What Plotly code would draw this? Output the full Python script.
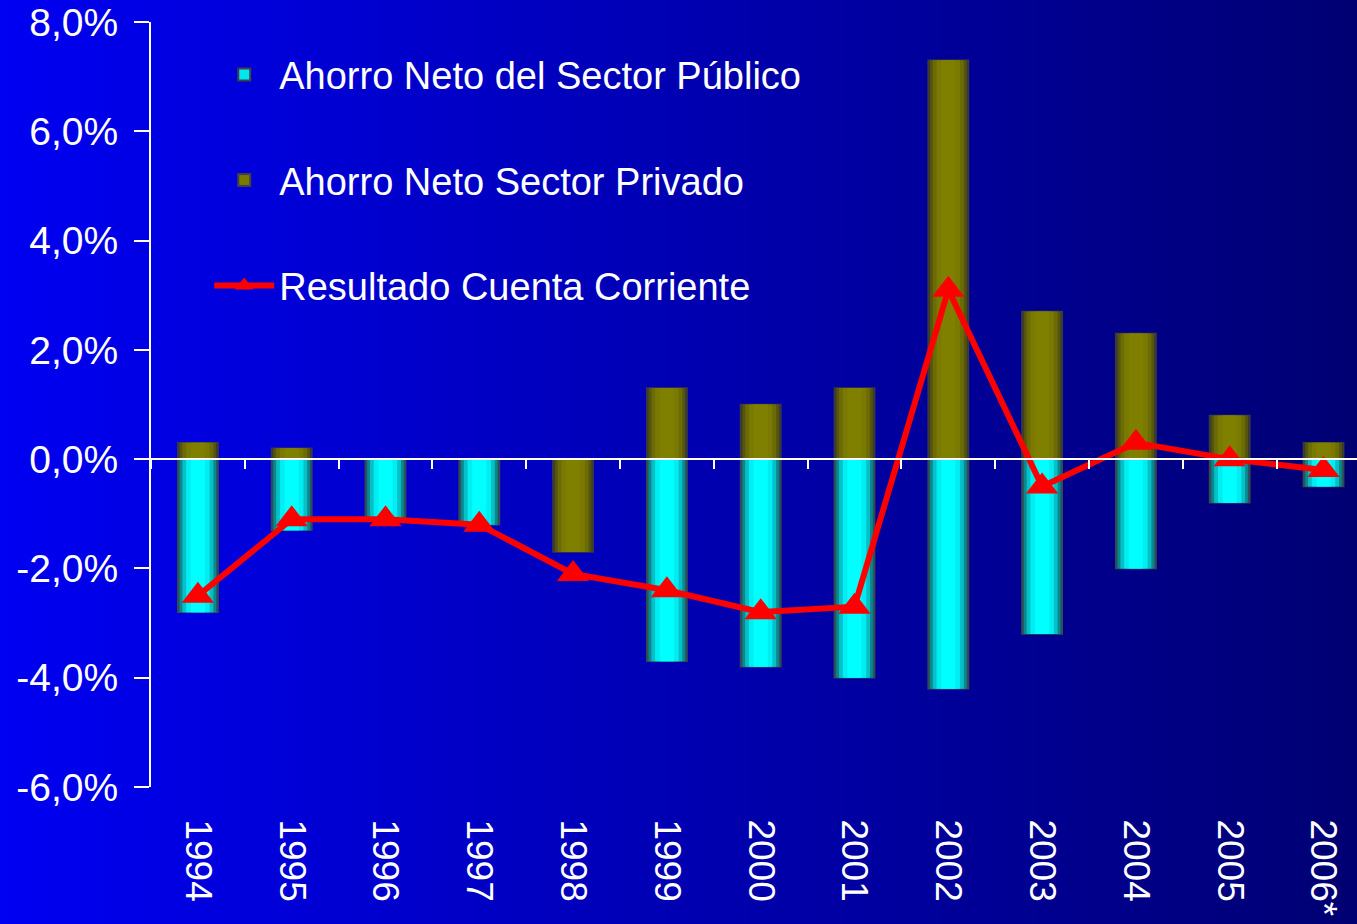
import base64, struct, zlib
import plotly.graph_objects as go

# ---------------- data ----------------
years = ["1994", "1995", "1996", "1997", "1998", "1999", "2000",
         "2001", "2002", "2003", "2004", "2005", "2006*"]
ahorro_publico = [-2.8, -1.3, -1.1, -1.2, -0.4, -3.7, -3.8, -4.0, -4.2, -3.2, -2.0, -0.8, -0.5]
ahorro_privado = [0.3, 0.2, 0.0, 0.0, -1.7, 1.3, 1.0, 1.3, 7.3, 2.7, 2.3, 0.8, 0.3]
cuenta_corriente = [-2.5, -1.1, -1.1, -1.2, -2.1, -2.4, -2.8, -2.7, 3.1, -0.5, 0.3, 0.0, -0.2]
y_ticks = [-6, -4, -2, 0, 2, 4, 6, 8]
y_ticktext = ["-6,0%", "-4,0%", "-2,0%", "0,0%", "2,0%", "4,0%", "6,0%", "8,0%"]

names = ["Ahorro Neto del Sector Público", "Ahorro Neto Sector Privado",
         "Resultado Cuenta Corriente"]

# ---------------- geometry ----------------
W, H = 1357, 924
ML, MR, MT, MB = 151, 0, 22, 137
PW, PH = W - ML - MR, H - MT - MB
YMIN, YMAX = -6, 8


# ---------------- background gradient image ----------------
def make_png(width, height, pixel):
    raw = b""
    for yy in range(height):
        raw += b"\x00" + b"".join(bytes(pixel(xx, yy)) for xx in range(width))

    def chunk(tag, data):
        c = tag + data
        return struct.pack(">I", len(data)) + c + struct.pack(">I", zlib.crc32(c) & 0xffffffff)

    return (b"\x89PNG\r\n\x1a\n" + chunk(b"IHDR", struct.pack(">IIBBBBB", width, height, 8, 2, 0, 0, 0))
            + chunk(b"IDAT", zlib.compress(raw, 9)) + chunk(b"IEND", b""))


GW = 256
def grad(xx, yy):
    t = xx / (GW - 1)
    b = round(242 + (115 - 242) * t)
    return (0, 0, b)

png = make_png(GW, 1, grad)
bg_src = "data:image/png;base64," + base64.b64encode(png).decode()

fig = go.Figure()

# ---------------- bars (layered for cylinder shading) ----------------
pub_layers = [(0.43, "#1E5A62"), (0.39, "#0A8890"), (0.33, "#06C0C8"), (0.25, "#00EEF2"), (0.15, "#00FFFF")]
pri_layers = [(0.43, "#3C3C22"), (0.39, "#55550F"), (0.33, "#6C6C06"), (0.25, "#7A7A02"), (0.15, "#808000")]
legend_colors = ["#00E8EE", "#7A7A02"]

for i, (w, c) in enumerate(pub_layers):
    fig.add_trace(go.Bar(
        x=years, y=ahorro_publico, width=w, name=names[0],
        marker=dict(color=c, line=dict(color="#3A4650" if i == 0 else c, width=1.5 if i == 0 else 0)),
        showlegend=False, legendgroup="pub", hoverinfo="skip",
    ))
for i, (w, c) in enumerate(pri_layers):
    fig.add_trace(go.Bar(
        x=years, y=ahorro_privado, width=w, name=names[1],
        marker=dict(color=c, line=dict(color="#3A3A44" if i == 0 else c, width=1.5 if i == 0 else 0)),
        showlegend=False, legendgroup="pri", hoverinfo="skip",
    ))

# legend keys for the bar series: same data on a hidden, out-of-range overlay axis,
# so only the key (bright face, dark border) is visible
for k, (vals, grp) in enumerate([(ahorro_publico, "pub"), (ahorro_privado, "pri")]):
    fig.add_trace(go.Bar(
        x=years, y=vals, name=names[k], legendgroup=grp, legendrank=k + 1,
        yaxis="y2",
        marker=dict(color=legend_colors[k], line=dict(color="#404048", width=2)),
        hoverinfo="skip",
    ))

fig.add_trace(go.Scatter(
    x=years, y=cuenta_corriente, name=names[2], mode="lines+markers",
    line=dict(color="#FF0000", width=6),
    marker=dict(symbol="triangle-up", size=28, color="#FF0000"),
    legendgroup="cc", legendrank=3,
))

# invisible trace to carry the zero-line axis (ticks at category boundaries)
fig.add_trace(go.Scatter(
    x=years, y=cuenta_corriente, xaxis="x2", mode="markers",
    marker=dict(opacity=0), showlegend=False, hoverinfo="skip",
))

FONT = "Liberation Sans, Arial, sans-serif"
xr = [-0.5, -0.5 + PW / 93.8]

fig.update_layout(
    width=W, height=H,
    margin=dict(l=ML, r=MR, t=MT, b=MB, pad=0),
    paper_bgcolor="#0000C0", plot_bgcolor="rgba(0,0,0,0)",
    barmode="overlay",
    font=dict(family=FONT, color="white", size=38),
    showlegend=True,
    legend=dict(x=0.0483, y=0.972, xanchor="left", yanchor="top",
                bgcolor="rgba(0,0,0,0)", font=dict(size=38, color="white", family=FONT),
                tracegroupgap=53, itemwidth=60, traceorder="grouped"),
    xaxis=dict(type="category", categoryorder="array", categoryarray=years,
               range=xr, showgrid=False, zeroline=False, showline=False,
               ticks="outside", ticklen=24, tickcolor="rgba(0,0,0,0)",
               tickangle=90, tickfont=dict(size=37, color="white", family=FONT)),
    xaxis2=dict(type="category", categoryorder="array", categoryarray=years,
                overlaying="x", anchor="free", position=(0 - YMIN) / (YMAX - YMIN),
                range=xr, showgrid=False, zeroline=False,
                showline=True, linecolor="white", linewidth=2,
                ticks="outside", tickson="boundaries", ticklen=9, tickwidth=2, tickcolor="white",
                showticklabels=False),
    yaxis=dict(range=[YMIN, YMAX], tickvals=y_ticks, ticktext=y_ticktext,
               showgrid=False, zeroline=False, showline=True, linecolor="white", linewidth=2,
               ticks="outside", ticklen=15, tickwidth=2, tickcolor="white",
               ticklabelstandoff=8,
               tickfont=dict(size=39, color="white", family=FONT)),
    yaxis2=dict(overlaying="y", range=[1000, 1001], visible=False, showgrid=False,
                zeroline=False, fixedrange=True),
    images=[dict(source=bg_src, xref="paper", yref="paper",
                 x=-ML / PW, y=1 + MT / PH, sizex=W / PW, sizey=H / PH,
                 xanchor="left", yanchor="top", sizing="stretch", layer="below")],
)

fig.write_html("out.html", config={"displayModeBar": False},
               post_script="document.body.style.margin='0px';document.body.style.overflow='hidden';")
